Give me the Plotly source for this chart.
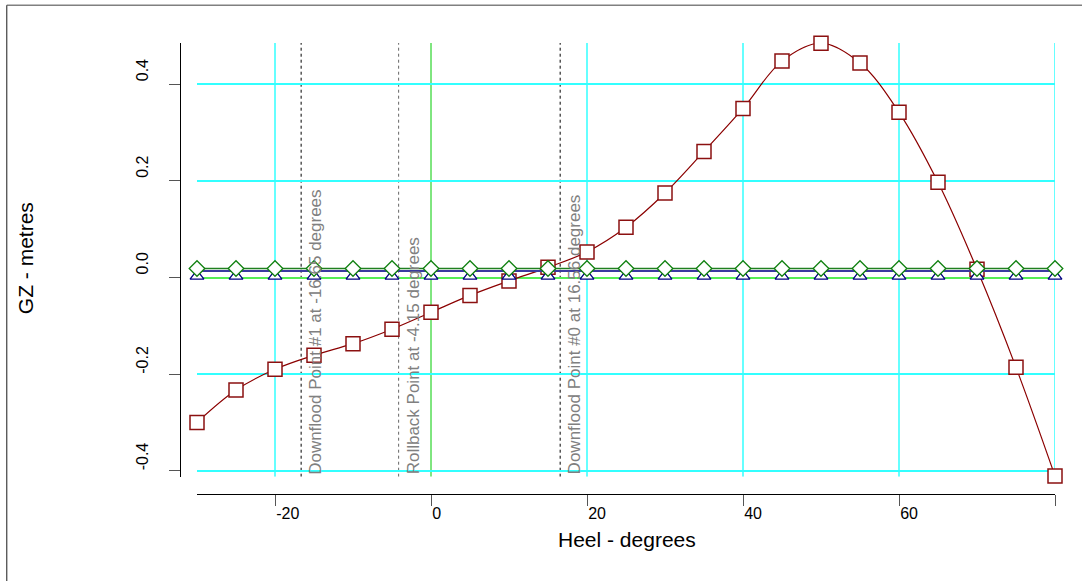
import plotly.graph_objects as go

# ---- data ----
heel = [-30, -25, -20, -15, -10, -5, 0, 5, 10, 15, 20, 25, 30, 35, 40, 45, 50, 55, 60, 65, 70, 75, 80]
gz = [-0.300, -0.233, -0.190, -0.161, -0.137, -0.107, -0.072, -0.037, -0.007, 0.021, 0.053,
      0.104, 0.175, 0.261, 0.350, 0.448, 0.485, 0.444, 0.342, 0.197, 0.017, -0.186, -0.411]
green_gz = [0.0186, 0.0186, 0.0186, 0.0186, 0.0186, 0.0186, 0.0186, 0.0186, 0.0186, 0.0186, 0.0186, 0.0186,
            0.0186, 0.0186, 0.0186, 0.0186, 0.0186, 0.0186, 0.0186, 0.0186, 0.0186, 0.0186, 0.0186]
blue_line_gz = [0.0137, 0.0137, 0.0137, 0.0137, 0.0137, 0.0137, 0.0137, 0.0137, 0.0137, 0.0137, 0.0137, 0.0137,
                0.0137, 0.0137, 0.0137, 0.0137, 0.0137, 0.0137, 0.0137, 0.0137, 0.0137, 0.0137, 0.0137]
blue_marker_gz = [0.003, 0.003, 0.003, 0.003, 0.003, 0.003, 0.003, 0.003, 0.003, 0.003, 0.003, 0.003,
                  0.003, 0.003, 0.003, 0.003, 0.003, 0.003, 0.003, 0.003, 0.003, 0.003, 0.003]

event_angles = [-16.65, -4.15, 16.56]
event_labels = ["Downflood Point #1 at -16.65 degrees",
                "Rollback Point at -4.15 degrees",
                "Downflood Point #0 at 16.56 degrees"]
event_colors = ["#000000", "#666666", "#000000"]

x_ticks = [-20, 0, 20, 40, 60, 80]
x_ticktext = ["-20", "0", "20", "40", "60", ""]
x_grid = [-20, 20, 40, 60, 80]
y_ticks = [-0.4, -0.2, 0.0, 0.2, 0.4]
y_ticktext = ["-0.4", "-0.2", "0.0", "0.2", "0.4"]

x_range = [-30, 80]
y_range = [-0.4124, 0.4855]

FONT = "Liberation Sans, Arial, sans-serif"

fig = go.Figure()

# vertical grid lines (cyan) and the zero-heel line (green)
for gx in x_grid:
    fig.add_shape(type="line", xref="x", yref="y", x0=gx, x1=gx, y0=y_range[0], y1=y_range[1],
                  line=dict(color="#33FFFF", width=1.5), layer="below")
fig.add_shape(type="line", xref="x", yref="y", x0=0, x1=0, y0=y_range[0], y1=y_range[1],
              line=dict(color="#00CC00", width=1), layer="below")

fig.add_trace(go.Scatter(
    x=heel, y=gz, mode="lines+markers",
    line=dict(color="#8B0000", width=1.2, shape="spline"),
    marker=dict(symbol="square", size=14, color="white", line=dict(color="#8B1010", width=1.5)),
    cliponaxis=False, hoverinfo="skip"))

fig.add_trace(go.Scatter(
    x=heel, y=blue_line_gz, mode="lines",
    line=dict(color="#3A3AA0", width=2),
    cliponaxis=False, hoverinfo="skip"))

fig.add_trace(go.Scatter(
    x=heel, y=blue_marker_gz, mode="markers",
    marker=dict(symbol="triangle-up", size=12, color="white", line=dict(color="#000080", width=1.3)),
    cliponaxis=False, hoverinfo="skip"))

fig.add_trace(go.Scatter(
    x=heel, y=green_gz, mode="lines+markers",
    line=dict(color="#208020", width=1.5),
    marker=dict(symbol="diamond", size=12, color="white", line=dict(color="#108010", width=1.3)),
    cliponaxis=False, hoverinfo="skip"))

# event lines and labels
for ang, lab, col in zip(event_angles, event_labels, event_colors):
    fig.add_shape(type="line", xref="x", yref="y", x0=ang, x1=ang, y0=y_range[0], y1=y_range[1],
                  line=dict(color=col, width=1, dash="dot"), layer="below")
    fig.add_annotation(x=ang, y=y_range[0], xref="x", yref="y", text=lab, textangle=-90,
                       showarrow=False, xanchor="left", yanchor="bottom", xshift=3,
                       font=dict(family=FONT, size=17, color="#808080"))

# outer frame (top and left visible)
fig.add_shape(type="line", xref="paper", yref="paper", x0=-0.198, x1=1.2, y0=1.0835, y1=1.0835,
              line=dict(color="#808080", width=1.5))
fig.add_shape(type="line", xref="paper", yref="paper", x0=-0.198, x1=-0.198, y0=-0.3, y1=1.0835,
              line=dict(color="#404040", width=1.2))

fig.update_xaxes(
    range=x_range, domain=[17 / 875, 1], anchor="free", position=0,
    tickmode="array", tickvals=x_ticks, ticktext=x_ticktext,
    ticklabelposition="outside right", ticklabelstandoff=5,
    showline=True, linecolor="#000000", linewidth=1.2,
    ticks="outside", ticklen=11, tickcolor="#555555", tickwidth=1.2,
    showgrid=False, zeroline=False,
    tickfont=dict(family=FONT, size=16, color="#000000"),
)
fig.update_yaxes(
    range=y_range, domain=[17.3 / 451.3, 1], anchor="free", position=0,
    tickmode="array", tickvals=y_ticks, ticktext=y_ticktext, tickangle=-90,
    ticklabelposition="outside top",
    showline=True, linecolor="#000000", linewidth=1.2,
    ticks="outside", ticklen=11, tickcolor="#555555", tickwidth=1.2,
    showgrid=True, gridcolor="#33FFFF", gridwidth=1.5,
    zeroline=True, zerolinecolor="#55EE55", zerolinewidth=2,
    tickfont=dict(family=FONT, size=16, color="#000000"),
    ticklabelstandoff=26,
)

fig.add_annotation(xref="paper", yref="paper", x=(627 - 180) / 875, y=(494 - 540) / 451.3,
                   text="Heel - degrees", showarrow=False, xanchor="center", yanchor="middle",
                   font=dict(family=FONT, size=21, color="#000000"))
fig.add_annotation(xref="paper", yref="paper", x=(25 - 180) / 875, y=(494 - 258) / 451.3,
                   text="GZ - metres", showarrow=False, textangle=-90, xanchor="center", yanchor="middle",
                   font=dict(family=FONT, size=21, color="#000000"))

fig.update_layout(
    template="none",
    width=1082, height=581,
    margin=dict(l=180, r=27, t=43, b=87),
    plot_bgcolor="white", paper_bgcolor="white",
    showlegend=False,
    font=dict(family=FONT),
)

fig.write_html("out.html", config={"displayModeBar": False},
               post_script="document.body.style.margin='0';document.body.style.overflow='hidden';")
